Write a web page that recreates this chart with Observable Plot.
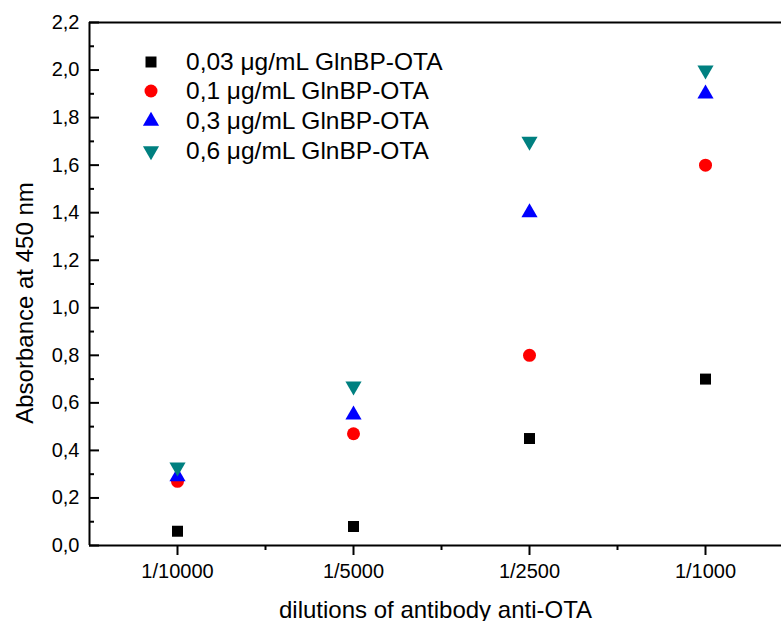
<!DOCTYPE html>
<html>
<head>
<meta charset="utf-8">
<script src="https://cdn.jsdelivr.net/npm/d3@7"></script>
<script src="https://cdn.jsdelivr.net/npm/@observablehq/plot@0.6"></script>
<style>
html, body { margin: 0; padding: 0; background: #fff; overflow: hidden; }
#wrap { position: relative; width: 781px; height: 621px; }
#legend { position: absolute; left: 0; top: 0; font-family: "Liberation Sans", Arial, sans-serif; font-size: 24.5px; color: #000; }
.row { position: absolute; display: flex; align-items: center; height: 30px; line-height: 30px; white-space: nowrap; }
.row svg { width: 24px; height: 24px; display: block; }
.row span { margin-left: 23px; }
</style>
</head>
<body>
<div id="wrap"><div id="legend"></div></div>
<script>
// ---- data ----
const dilutions = ["1/10000", "1/5000", "1/2500", "1/1000"];
const conc003 = [0.06, 0.08, 0.45, 0.70];
const conc01  = [0.27, 0.47, 0.80, 1.60];
const conc03  = [0.29, 0.55, 1.40, 1.90];
const conc06  = [0.33, 0.67, 1.70, 2.00];
const seriesLabels = ["0,03 μg/mL GlnBP-OTA", "0,1 μg/mL GlnBP-OTA", "0,3 μg/mL GlnBP-OTA", "0,6 μg/mL GlnBP-OTA"];
const yTicks = [0, 0.2, 0.4, 0.6, 0.8, 1.0, 1.2, 1.4, 1.6, 1.8, 2.0, 2.2];
const yMinorTicks = [0.1, 0.3, 0.5, 0.7, 0.9, 1.1, 1.3, 1.5, 1.7, 1.9, 2.1];
const xTicks = [1, 2, 3, 4];
const xMinorTicks = [1.5, 2.5, 3.5];
const xTitle = "dilutions of antibody anti-OTA";
const yTitle = "Absorbance at 450 nm";

// ---- styling ----
const seriesValues = [conc003, conc01, conc03, conc06];
const seriesColors = ["#000000", "#ff0000", "#0000ff", "#008080"];
const seriesSymbols = ["square", "circle", "triangle", "triangle"];
const seriesRotate = [0, 0, 0, 180];
const seriesR = [6.2, 6.5, 6, 6];

const font = '"Liberation Sans", Arial, sans-serif';
const fmt = d => d.toFixed(1).replace(".", ",");

const dotMarks = seriesValues.map((vals, s) =>
  Plot.dot(vals.map((v, i) => ({x: i + 1, y: v})), {
    x: "x", y: "y",
    symbol: seriesSymbols[s],
    rotate: seriesRotate[s],
    r: seriesR[s],
    fill: seriesColors[s],
    stroke: "none"
  })
);

const chart = Plot.plot({
  width: 781,
  height: 621,
  marginLeft: 89,
  marginRight: 0,
  marginTop: 22,
  marginBottom: 76,
  style: {fontFamily: font, fontSize: "20px", color: "#000", background: "#fff"},
  x: {domain: [0.5, 4.5], range: [89, 793]},
  y: {domain: [0, 2.2], range: [545, 22]},
  marks: [
    Plot.axisY({ticks: yTicks, tickSize: 0, tickPadding: 10, tickFormat: fmt, label: null, fontSize: 20}),
    Plot.axisY({ticks: yTicks, tickSize: -10, text: null, label: null, strokeWidth: 2}),
    Plot.axisY({ticks: yMinorTicks, tickSize: -5, text: null, label: null, strokeWidth: 2}),
    Plot.axisX({ticks: xTicks, tickSize: 10, tickPadding: 8, tickFormat: d => dilutions[d - 1], label: null, fontSize: 20, strokeWidth: 2}),
    Plot.axisX({ticks: xMinorTicks, tickSize: 5, text: null, label: null, strokeWidth: 2}),
    Plot.ruleY([0], {strokeWidth: 2}),
    Plot.ruleY([2.2], {strokeWidth: 2}),
    Plot.ruleX([0.5], {strokeWidth: 2}),
    ...dotMarks,
    Plot.text([xTitle], {text: d => d, frameAnchor: "bottom", textAnchor: "middle", lineAnchor: "bottom", dy: 72, fontSize: 24}),
    Plot.text([yTitle], {text: d => d, frameAnchor: "left", textAnchor: "middle", lineAnchor: "middle", rotate: -90, dx: -64, dy: 19, fontSize: 24})
  ]
});
document.getElementById("wrap").prepend(chart);

// ---- legend ----
const legend = d3.select("#legend");
const rowCenters = [62, 91, 121, 151];
const symMap = {square: d3.symbolSquare, circle: d3.symbolCircle, triangle: d3.symbolTriangle};
seriesLabels.forEach((lab, s) => {
  const row = legend.append("div").attr("class", "row")
    .style("left", "139px").style("top", (rowCenters[s] - 15) + "px");
  const svg = row.append("svg").attr("viewBox", "-12 -12 24 24");
  svg.append("path")
    .attr("d", d3.symbol(symMap[seriesSymbols[s]], Math.PI * seriesR[s] * seriesR[s])())
    .attr("transform", `rotate(${seriesRotate[s]})`)
    .attr("fill", seriesColors[s]);
  row.append("span").text(lab);
});
</script>
</body>
</html>
